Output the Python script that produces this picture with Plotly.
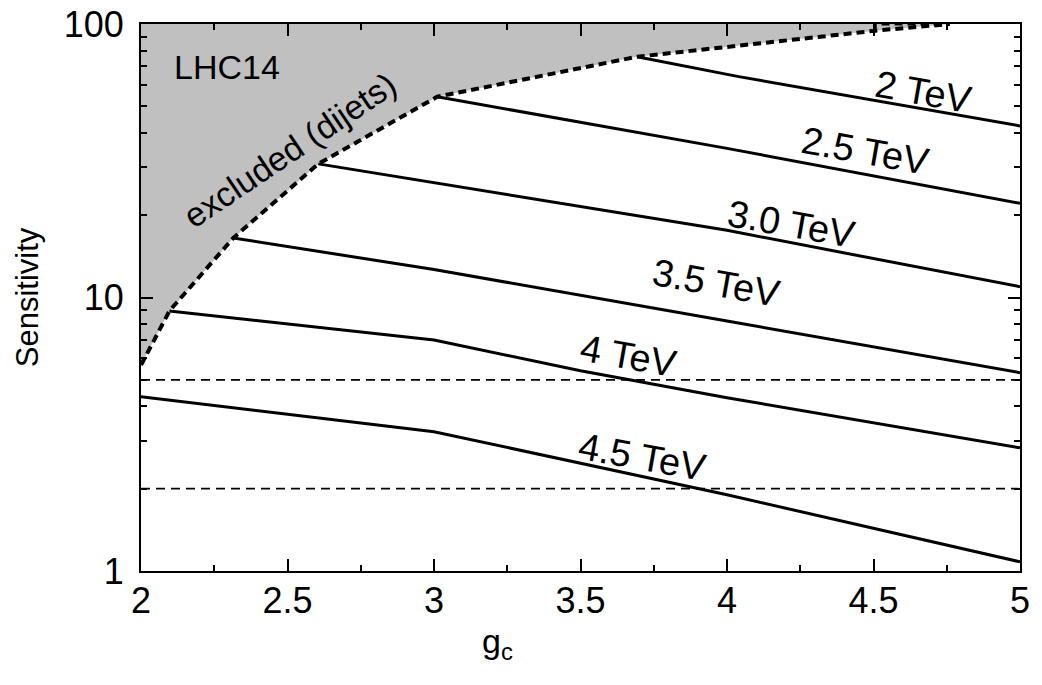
import math
import plotly.graph_objects as go

# ---------------- data ----------------
# exclusion boundary (dijets)
bound_x = [2.0, 2.097, 2.315, 2.605, 3.011, 3.693, 4.506, 4.76]
bound_y = [5.66, 8.93, 16.5, 30.8, 54.2, 75.9, 94.5, 100.0]

# sensitivity curves for each mass
labels = ["2 TeV", "2.5 TeV", "3.0 TeV", "3.5 TeV", "4 TeV", "4.5 TeV"]
x_2tev = [3.693, 4.04, 5.0]
y_2tev = [75.9, 64.2, 42.4]
x_25tev = [3.011, 4.0, 5.0]
y_25tev = [54.2, 35.1, 22.1]
x_30tev = [2.605, 3.0, 4.0, 5.0]
y_30tev = [30.8, 26.3, 17.6, 10.95]
x_35tev = [2.315, 3.0, 4.0, 5.0]
y_35tev = [16.5, 12.66, 8.2, 5.31]
x_40tev = [2.097, 3.0, 3.5, 4.0, 5.0]
y_40tev = [8.93, 6.99, 5.4, 4.3, 2.82]
x_45tev = [2.0, 3.0, 4.0, 5.0]
y_45tev = [4.34, 3.23, 1.9, 1.08]

# label anchor positions (data coords)
label_x = [4.671, 4.473, 4.219, 3.965, 3.664, 3.712]
label_y = [56.4, 34.3, 18.6, 11.3, 6.11, 2.61]

# reference sensitivity levels
ref_levels = [5, 2]

x_ticks = [2, 2.5, 3, 3.5, 4, 4.5, 5]
x_ticktext = ["2", "2.5", "3", "3.5", "4", "4.5", "5"]
y_ticks = [1, 10, 100]
y_ticktext = ["1", "10", "100"]

FONT = "Liberation Sans"

fig = go.Figure()

# grey excluded region
fig.add_trace(go.Scatter(
    x=bound_x + [2.0], y=bound_y + [100.0],
    fill="toself", fillcolor="#c0c0c0", mode="none",
    hoverinfo="skip", showlegend=False))

# reference dashed levels
for lvl in ref_levels:
    fig.add_trace(go.Scatter(
        x=[2, 5], y=[lvl, lvl], mode="lines",
        line=dict(color="black", width=1.6, dash="9px,6px"),
        showlegend=False))

# curves
curves = [(x_2tev, y_2tev), (x_25tev, y_25tev), (x_30tev, y_30tev),
          (x_35tev, y_35tev), (x_40tev, y_40tev), (x_45tev, y_45tev)]
for (cx, cy), name in zip(curves, labels):
    fig.add_trace(go.Scatter(
        x=cx, y=cy, mode="lines", name=name,
        line=dict(color="black", width=3), showlegend=False))

# boundary dashed line
fig.add_trace(go.Scatter(
    x=bound_x, y=bound_y, mode="lines",
    line=dict(color="black", width=4, dash="8px,5px"),
    showlegend=False))
# small artefact box near top
fig.add_trace(go.Scatter(
    x=[bound_x[-2], bound_x[-2], bound_x[-1]], y=[bound_y[-2], 100, 100],
    mode="lines", line=dict(color="black", width=3, dash="8px,5px"),
    showlegend=False))

annotations = []
for lx, ly, txt in zip(label_x, label_y, labels):
    annotations.append(dict(
        x=lx, y=math.log10(ly), xref="x", yref="y", text=txt,
        showarrow=False, textangle=10,
        font=dict(family=FONT, size=38, color="black")))

annotations.append(dict(
    x=2.106, y=math.log10(69.8), xref="x", yref="y", text="LHC14",
    xanchor="left", showarrow=False,
    font=dict(family=FONT, size=34, color="black")))
annotations.append(dict(
    x=2.508, y=math.log10(34.6), xref="x", yref="y", text="excluded (dijets)",
    showarrow=False, textangle=-34,
    font=dict(family=FONT, size=34, color="black")))
# axis titles
annotations.append(dict(
    x=-0.151, y=0.5, xref="paper", yref="paper", text="Sensitivity",
    showarrow=False, textangle=-90,
    font=dict(family=FONT, size=31, color="black")))
annotations.append(dict(
    x=0.406, y=-0.175, xref="paper", yref="paper", text="g<sub>c</sub>",
    showarrow=False,
    font=dict(family=FONT, size=34, color="black")))

fig.update_layout(
    width=1042, height=685,
    margin=dict(l=141, r=22, t=24, b=114, autoexpand=False),
    paper_bgcolor="white", plot_bgcolor="white",
    annotations=annotations,
    font=dict(family=FONT, size=34, color="black"),
)

fig.update_xaxes(
    range=[2, 5], tickvals=x_ticks, ticktext=x_ticktext,
    ticks="inside", ticklen=12, tickwidth=1.5, tickcolor="black",
    showline=True, linewidth=2, linecolor="black", mirror="allticks",
    showgrid=False, zeroline=False, ticklabelstandoff=-3, automargin=False,
    tickfont=dict(family=FONT, size=36, color="black"),
    minor=dict(tickvals=[2.25, 2.75, 3.25, 3.75, 4.25, 4.75],
               ticks="inside", ticklen=6, tickwidth=1.5, tickcolor="black",
               showgrid=False),
)
fig.update_yaxes(
    type="log", range=[0, 2], tickvals=y_ticks, ticktext=y_ticktext,
    ticks="inside", ticklen=12, tickwidth=1.5, tickcolor="black",
    showline=True, linewidth=2, linecolor="black", mirror="allticks",
    showgrid=False, zeroline=False, ticklabelstandoff=8, automargin=False,
    tickfont=dict(family=FONT, size=36, color="black"),
    minor=dict(tickvals=[2, 3, 4, 5, 6, 7, 8, 9, 20, 30, 40, 50, 60, 70, 80, 90],
               ticks="inside", ticklen=6, tickwidth=1.5, tickcolor="black",
               showgrid=False),
)

fig.write_html("out.html",
               config={"displayModeBar": False},
               post_script="document.body.style.margin='0px';document.body.style.overflow='hidden';")
